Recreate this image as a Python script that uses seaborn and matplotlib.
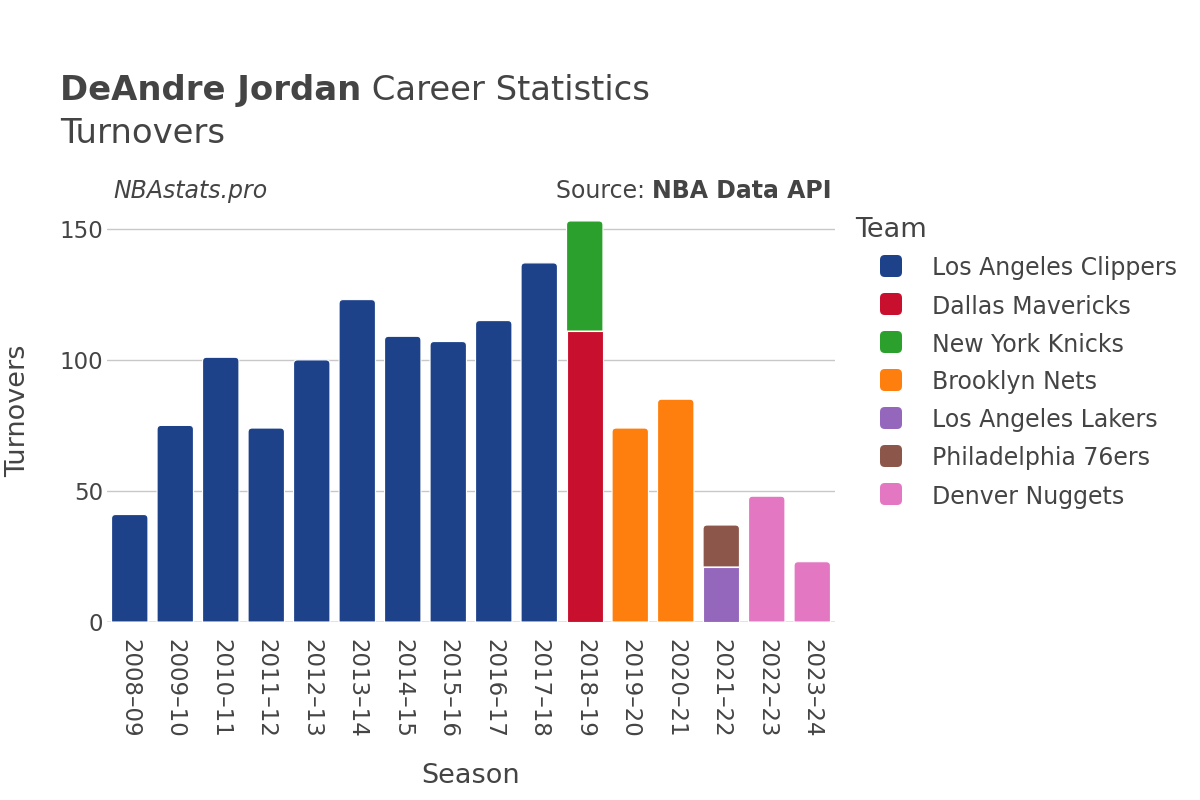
import numpy as np
import pandas as pd
import matplotlib
matplotlib.use("Agg")
import matplotlib.pyplot as plt
import seaborn as sns
from matplotlib.patches import FancyBboxPatch, PathPatch
from matplotlib.path import Path

# ---------------- data ----------------
seasons = ["2008–09", "2009–10", "2010–11", "2011–12", "2012–13", "2013–14",
           "2014–15", "2015–16", "2016–17", "2017–18", "2018–19", "2019–20",
           "2020–21", "2021–22", "2022–23", "2023–24"]

row_season = ["2008–09", "2009–10", "2010–11", "2011–12", "2012–13", "2013–14",
              "2014–15", "2015–16", "2016–17", "2017–18", "2018–19", "2018–19",
              "2019–20", "2020–21", "2021–22", "2021–22", "2022–23", "2023–24"]
row_team = ["Los Angeles Clippers"] * 10 + [
    "Dallas Mavericks", "New York Knicks", "Brooklyn Nets", "Brooklyn Nets",
    "Los Angeles Lakers", "Philadelphia 76ers", "Denver Nuggets", "Denver Nuggets"]
row_turnovers = [41, 75, 101, 74, 100, 123, 109, 107, 115, 137,
                 111, 42, 74, 85, 21, 16, 48, 23]

teams = ["Los Angeles Clippers", "Dallas Mavericks", "New York Knicks",
         "Brooklyn Nets", "Los Angeles Lakers", "Philadelphia 76ers",
         "Denver Nuggets"]
team_colors = ["#1d428a", "#c8102e", "#2ca02c", "#ff7f0e", "#9467bd",
               "#8c564b", "#e377c2"]

df = pd.DataFrame({"Season": pd.Categorical(row_season, categories=seasons, ordered=True),
                   "Team": row_team, "Turnovers": row_turnovers})
df["pos"] = df["Season"].cat.codes

# ---------------- figure ----------------
sns.set_theme(style="white")
plt.rcParams["font.family"] = ["DejaVu Sans"]
TXT = "#444444"

W, H = 1200, 800
fig = plt.figure(figsize=(12, 8), dpi=100)
ax = fig.add_axes([107 / W, 1 - 622 / H, (835 - 107) / W, (622 - 200) / H])

palette = dict(zip(teams, team_colors))
# seaborn stacks the first hue level on top, so reverse the order for stacking
sns.histplot(data=df, x="pos", weights="Turnovers", hue="Team",
             hue_order=teams[::-1], palette=palette, multiple="stack",
             discrete=True, shrink=0.8, alpha=1, edgecolor="white",
             linewidth=0.8, legend=False, ax=ax)

ax.set_xlim(-0.5, len(seasons) - 0.5)
ax.set_ylim(0, 161)

# round the top corners of the top segment of every stack
px_x = ax.transData.transform((1, 0))[0] - ax.transData.transform((0, 0))[0]
px_y = ax.transData.transform((0, 1))[1] - ax.transData.transform((0, 0))[1]
rad = 4.0
rx, ry = rad / px_x, rad / px_y
rects = [p for p in list(ax.patches) if p.get_height() > 0]
tops = {}
for p in rects:
    xc = round(p.get_x() + p.get_width() / 2, 3)
    tops[xc] = max(tops.get(xc, 0), p.get_y() + p.get_height())
for p in rects:
    xc = round(p.get_x() + p.get_width() / 2, 3)
    x0, y0 = p.get_x(), p.get_y()
    x1, y1 = x0 + p.get_width(), y0 + p.get_height()
    if abs(y1 - tops[xc]) < 1e-9:
        verts = [(x0, y0), (x1, y0), (x1, y1 - ry), (x1, y1), (x1 - rx, y1),
                 (x0 + rx, y1), (x0, y1), (x0, y1 - ry), (x0, y0)]
        codes = [Path.MOVETO, Path.LINETO, Path.LINETO, Path.CURVE3, Path.CURVE3,
                 Path.LINETO, Path.CURVE3, Path.CURVE3, Path.CLOSEPOLY]
        pp = PathPatch(Path(verts, codes), facecolor=p.get_facecolor(),
                       edgecolor="white", linewidth=0.8, zorder=p.get_zorder())
        p.remove()
        ax.add_patch(pp)
for p in ax.patches:
    if hasattr(p, "get_height") and p.get_height() == 0:
        p.set_visible(False)

ax.set_xticks(range(len(seasons)))
ax.set_xticklabels(seasons, rotation=-90, fontsize=16.5, color=TXT)
ax.set_yticks([0, 50, 100, 150])
ax.set_yticklabels(["0", "50", "100", "150"], fontsize=16.5, color=TXT)
ax.tick_params(axis="x", length=0, pad=12)
ax.tick_params(axis="y", length=0, pad=3)
for s in ax.spines.values():
    s.set_visible(False)
ax.yaxis.grid(True, color="#c8c8c8", linewidth=1)
ax.set_axisbelow(True)
ax.axhline(0, color="#e8e8e8", linewidth=2, zorder=0.5)

ax.set_xlabel("Season", fontsize=19.5, color=TXT, labelpad=18)
ax.set_ylabel("Turnovers", fontsize=19.5, color=TXT, labelpad=20)

# ---------------- titles ----------------
renderer = fig.canvas.get_renderer()
t1 = fig.text(60 / W, 1 - 100 / H, "DeAndre Jordan", fontsize=24.4,
              fontweight="bold", color=TXT, va="baseline", ha="left")
bb = t1.get_window_extent(renderer)
fig.text(bb.x1 / W, 1 - 100 / H, " Career Statistics", fontsize=24.4,
         color=TXT, va="baseline", ha="left")
fig.text(60 / W, 1 - 143 / H, "Turnovers", fontsize=24.4, color=TXT,
         va="baseline", ha="left")

fig.text(113 / W, 1 - 198 / H, "NBAstats.pro", fontsize=17, style="italic",
         color=TXT, va="baseline", ha="left")
t2 = fig.text(832 / W, 1 - 198 / H, "NBA Data API", fontsize=17,
              fontweight="bold", color=TXT, va="baseline", ha="right")
bb2 = t2.get_window_extent(renderer)
fig.text(bb2.x0 / W, 1 - 198 / H, "Source: ", fontsize=17, color=TXT,
         va="baseline", ha="right")

# ---------------- legend ----------------
fig.text(855 / W, 1 - 237 / H, "Team", fontsize=19.5, color=TXT,
         va="baseline", ha="left")
for i, (team, col) in enumerate(zip(teams, team_colors)):
    cy = 266 + 38 * i
    box = FancyBboxPatch((880 / W, 1 - (cy + 11) / H), 22 / W, 22 / H,
                         boxstyle="round,pad=0,rounding_size=0.004",
                         transform=fig.transFigure, facecolor=col,
                         edgecolor="none", mutation_aspect=W / H)
    fig.patches.append(box)
    fig.text(932 / W, 1 - cy / H, team, fontsize=17, color=TXT,
             va="center_baseline", ha="left")

fig.savefig("out.png", dpi=100, facecolor="white")
